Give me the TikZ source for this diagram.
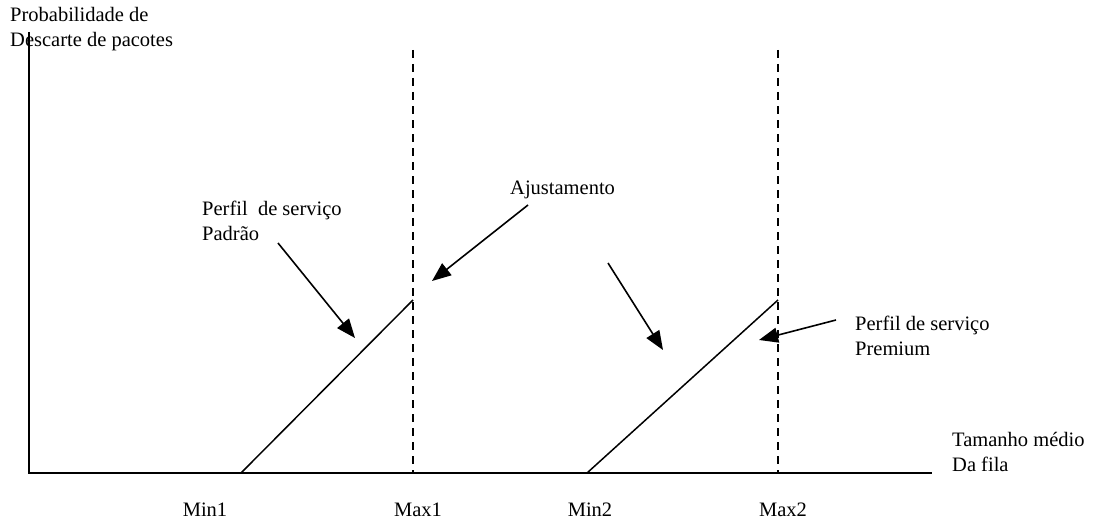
\documentclass[tikz,border=0pt]{standalone}
\usepackage{fontspec}
\setmainfont{Liberation Serif}
\usetikzlibrary{arrows.meta}
\begin{document}
\begin{tikzpicture}[x=1pt,y=-1pt,
  lbl/.style={font=\fontsize{20.5}{25}\selectfont, inner sep=0pt, align=left},
  axisline/.style={line width=2pt},
  ramp/.style={line width=1.5pt},
  limit/.style={line width=2pt, dash pattern=on 8pt off 6pt},
  pointer/.style={line width=1.6pt, -{Triangle[length=19pt,width=15pt]}}]
\useasboundingbox (0,0) rectangle (1093,527);
% axes
\coordinate (top) at (29,32);
\coordinate (origin) at (29,473);
\coordinate (xend) at (932,473);
\draw[axisline] (top) -- (origin) -- (xend);
% thresholds on the queue axis
\coordinate (min1) at (241,473);
\coordinate (max1b) at (413,473);
\coordinate (max1t) at (413,50);
\coordinate (max1p) at (413,300);
\coordinate (min2) at (587,473);
\coordinate (max2b) at (778,473);
\coordinate (max2t) at (778,50);
\coordinate (max2p) at (778,300);
\draw[limit] (max1t) -- (max1b);
\draw[limit] (max2t) -- (max2b);
% drop-probability ramps
\draw[ramp] (min1) -- (max1p);
\draw[ramp] (min2) -- (max2p);
% labels
\node[lbl, anchor=west] (ylab) at (10,29.5) {Probabilidade de\\Descarte de pacotes};
\node[lbl, anchor=west] (xlab) at (952,451.5) {Tamanho médio\\Da fila};
\node[lbl, anchor=west] (padrao) at (202,220.5) {Perfil~ de serviço\\Padrão};
\node[lbl, anchor=west] (ajuste) at (510,190) {Ajustamento};
\node[lbl, anchor=west] (premium) at (855,335.5) {Perfil de serviço\\Premium};
\node[lbl] (lmin1) at (205,510) {Min1};
\node[lbl] (lmax1) at (418,510) {Max1};
\node[lbl] (lmin2) at (590,510) {Min2};
\node[lbl] (lmax2) at (783,510) {Max2};
% pointers
\coordinate (a1s) at (278,243); \coordinate (a1e) at (355,338);
\coordinate (a2s) at (528,205); \coordinate (a2e) at (432,281);
\coordinate (a3s) at (608,263); \coordinate (a3e) at (663,350);
\coordinate (a4s) at (836,320); \coordinate (a4e) at (759,340);
\draw[pointer] (a1s) -- (a1e);
\draw[pointer] (a2s) -- (a2e);
\draw[pointer] (a3s) -- (a3e);
\draw[pointer] (a4s) -- (a4e);
\end{tikzpicture}
\end{document}
